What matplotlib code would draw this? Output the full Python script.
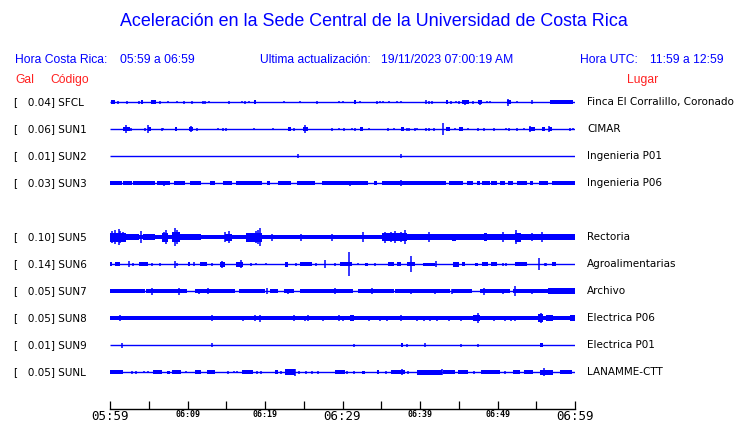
import matplotlib
matplotlib.use("Agg")
import matplotlib.pyplot as plt
import matplotlib.transforms as mtransforms

# STATIONS
codes = ["SFCL", "SUN1", "SUN2", "SUN3", "SUN5", "SUN6", "SUN7", "SUN8", "SUN9", "SUNL"]
gal = [0.04, 0.06, 0.01, 0.03, 0.10, 0.14, 0.05, 0.05, 0.01, 0.05]
places = ["Finca El Corralillo, Coronado", "CIMAR", "Ingenieria P01", "Ingenieria P06",
          "Rectoria", "Agroalimentarias", "Archivo", "Electrica P06", "Electrica P01",
          "LANAMME-CTT"]
rows = [0, 1, 2, 3, 5, 6, 7, 8, 9, 10]

# TIME AXIS (minutes after 05:59)
tick_minutes = list(range(0, 61, 5))
tick_labels = ["05:59", "", "06:09", "", "06:19", "", "06:29", "", "06:39", "", "06:49", "", "06:59"]
big_labels = ["05:59", "06:29", "06:59"]

# TRACE ENVELOPES
# bands: (start min, end min, half amplitude px), spikes: (min, half amplitude px)
bands = {
    "SFCL": [(0.1, 0.6, 2), (4.0, 4.3, 2), (5.3, 5.9, 2), (18.6, 18.9, 2), (31.5, 31.8, 2),
             (43.3, 43.6, 2), (45.4, 46.3, 2), (47.5, 48.0, 2), (51.2, 51.7, 2), (56.8, 59.8, 2.2)],
    "SUN1": [(1.7, 2.6, 2), (4.9, 5.3, 2), (8.4, 8.6, 2), (10.2, 10.7, 2), (23.0, 23.3, 2),
             (24.9, 25.6, 2), (32.3, 32.6, 2), (37.5, 37.9, 2), (43.4, 43.9, 2), (45.0, 45.6, 2),
             (54.0, 54.8, 2), (55.7, 56.1, 2), (56.6, 57.0, 2)],
    "SUN2": [],
    "SUN3": [(0, 1.5, 2), (1.7, 2.8, 2), (3.0, 5.8, 2), (6.0, 7.7, 2), (8.2, 9.7, 2),
             (10.3, 11.8, 2), (12.9, 13.5, 2), (14.6, 15.7, 2), (16.3, 19.6, 2), (20.2, 20.6, 2),
             (21.7, 23.4, 2), (24.1, 26.5, 2), (27.3, 33.3, 2), (34.0, 34.4, 2), (35.1, 43.4, 2),
             (43.7, 45.6, 2), (46.0, 46.8, 2), (47.3, 47.7, 2), (48.0, 49.0, 2), (49.2, 49.9, 2),
             (50.3, 51.0, 2), (51.4, 52.0, 2), (52.5, 53.8, 2), (54.2, 54.6, 2), (55.3, 56.5, 2),
             (57.0, 60.0, 2)],
    "SUN5": [(0, 2.0, 4.5), (2.0, 3.8, 2.8), (3.8, 4.3, 2.3), (4.3, 5.8, 2.8), (5.8, 6.7, 2.3),
             (6.7, 7.5, 4.5), (7.5, 8.0, 2.3), (8.0, 9.0, 5), (9.0, 11.8, 2.8), (11.8, 14.8, 2.3),
             (14.8, 15.7, 3.5), (15.7, 17.6, 2.3), (17.6, 19.6, 4.5), (19.6, 35.1, 2.3),
             (35.1, 38.3, 4), (38.3, 44.1, 2.8), (44.1, 44.7, 3.5), (44.7, 48.2, 2.8),
             (48.2, 48.6, 4), (48.6, 52.3, 2.8), (52.3, 53.0, 4.5), (53.0, 56.7, 2.8), (56.7, 60, 3.2)],
    "SUN6": [(0, 0.2, 2), (0.6, 1.3, 2), (3.7, 4.9, 2), (10.1, 10.3, 2), (11.6, 12.5, 2),
             (14.2, 14.8, 2.5), (16.3, 17.2, 2.5), (22.6, 23.0, 2.5), (24.5, 26.0, 2),
             (29.7, 31.2, 2), (32.9, 33.3, 1.5), (35.9, 36.6, 2), (37.0, 37.6, 2), (38.3, 39.3, 2),
             (40.4, 41.9, 1.5), (44.3, 45.0, 2.5), (45.4, 45.8, 2), (47.1, 47.5, 1.5),
             (48.0, 48.8, 2), (49.2, 49.9, 2), (52.3, 53.8, 2), (57.0, 57.6, 2)],
    "SUN7": [(0, 4.5, 2.2), (4.7, 9.9, 2.2), (11.0, 16.1, 2.2), (16.6, 20.0, 2.2), (20.6, 21.7, 2.2),
             (22.4, 23.7, 2.2), (24.5, 31.4, 2.2), (32.0, 36.6, 2.2), (36.8, 43.9, 2.2),
             (44.1, 46.7, 2.2), (47.7, 51.6, 2.2), (52.0, 56.5, 2.2), (56.5, 60, 2.7)],
    "SUN8": [(0, 60, 2.1), (31.0, 31.5, 3), (46.9, 47.7, 3.2), (55.2, 55.9, 3.7),
             (56.3, 57.2, 3), (59.4, 60, 3)],
    "SUN9": [(37.5, 37.8, 2), (55.5, 55.9, 2)],
    "SUNL": [(0, 0.6, 2), (0.6, 1.7, 2), (5.6, 6.7, 2), (7.3, 7.7, 1.5), (8.0, 9.2, 2),
             (11.0, 11.8, 2), (12.5, 13.5, 2), (17.0, 18.5, 2), (21.3, 21.7, 2), (22.6, 23.9, 3),
             (29.0, 30.3, 2), (32.5, 32.9, 1.5), (34.4, 34.7, 2), (36.3, 38.1, 2), (39.6, 42.8, 2.5),
             (43.0, 44.5, 2), (44.9, 46.2, 2), (47.9, 50.3, 2), (52.0, 52.9, 2), (53.4, 54.6, 2),
             (55.5, 57.2, 2.5), (58.1, 59.6, 2)],
}
spikes = {
    "SFCL": [(0.2, 2), (1.0, 1.5), (2.2, 1.5), (3.8, 1.5), (5.4, 2), (6.5, 1.5), (7.5, 1),
             (8.6, 1), (9.5, 1.5), (10.6, 1.5), (12.0, 1.5), (12.2, 1.5), (12.8, 1), (15.4, 1.5),
             (17.0, 1), (17.4, 1.5), (17.9, 1), (22.4, 1), (24.5, 1), (26.7, 1.5), (29.5, 1),
             (30.1, 1), (32.3, 1), (34.4, 1.5), (34.8, 1), (35.2, 1), (36.0, 1), (37.0, 1),
             (37.6, 1), (40.8, 2), (41.2, 1.5), (41.6, 1.5), (44.0, 1.5), (44.6, 1), (45.0, 1.5),
             (45.8, 2.5), (46.9, 1.5), (47.8, 2.5), (48.6, 1), (49.0, 1), (51.4, 3.5), (52.5, 1),
             (54.5, 2)],
    "SUN1": [(2.1, 4), (2.7, 1.5), (4.5, 1.5), (4.9, 4), (6.7, 1.5), (6.9, 1), (10.4, 3),
             (11.2, 1.5), (13.9, 1), (14.6, 1.5), (15.0, 1.5), (18.6, 1), (21.0, 1), (23.7, 1.5),
             (25.2, 4), (28.7, 1.5), (29.6, 1), (30.2, 1.5), (31.2, 1), (31.6, 1.5), (33.4, 1),
             (35.9, 1.5), (36.6, 1), (38.3, 1.5), (38.6, 1.5), (39.4, 1.5), (39.6, 1), (40.8, 1.5),
             (41.1, 1.5), (41.8, 1.5), (43.0, 6), (44.5, 1), (46.2, 1), (47.5, 1.5), (48.2, 1.5),
             (49.5, 1.5), (51.1, 1), (51.5, 1.5), (52.5, 1.5), (53.4, 1), (54.2, 3), (56.7, 3),
             (59.3, 1.5), (59.8, 1)],
    "SUN2": [(24.3, 2), (37.5, 2)],
    "SUN3": [(37.6, 3), (31.0, 2.5), (7.0, 2.5)],
    "SUN5": [(0.2, 6), (0.6, 7), (1.1, 8), (1.3, 6), (1.7, 5), (4.0, 6), (7.0, 5), (7.2, 7),
             (8.4, 9), (8.7, 7), (14.9, 5), (15.3, 6), (18.8, 6), (19.1, 7), (19.4, 9), (20.9, 3.5),
             (24.7, 3.5), (28.6, 3.5), (32.6, 5), (35.5, 5.5), (36.2, 5), (36.8, 6), (37.6, 5),
             (38.1, 7), (41.1, 5), (50.7, 5), (52.4, 7), (54.4, 4), (55.7, 5)],
    "SUN6": [(2.4, 3), (3.0, 1.5), (5.4, 1.5), (6.4, 1.5), (8.4, 3.5), (8.6, 1.5), (10.8, 2),
             (13.1, 1.5), (14.4, 3.5), (16.9, 4), (18.2, 1.5), (18.8, 1), (20.1, 1), (24.0, 1.5),
             (26.6, 1.5), (27.7, 4), (29.0, 1.5), (30.8, 12), (32.0, 1), (34.2, 1.5), (38.9, 8),
             (42.1, 3), (50.7, 1.5), (51.1, 1.5), (55.4, 6), (56.1, 1.5), (56.3, 1.5)],
    "SUN7": [(5.4, 3.5), (8.9, 3.5), (11.5, 2.5), (12.7, 3), (20.2, 3), (23.0, 2.5), (29.0, 3),
             (33.8, 3), (38.9, 2.5), (41.9, 2.5), (44.1, 2.5), (48.3, 3.5), (50.7, 2.5),
             (52.3, 5), (54.5, 2.5)],
    "SUN8": [(1.3, 3), (13.2, 3), (17.1, 2.5), (18.7, 3), (19.4, 3.5), (23.8, 3), (25.1, 2.5),
             (25.6, 3), (27.5, 2.5), (29.5, 3), (30.1, 2.5), (33.4, 2.5), (34.9, 2.5), (35.8, 2.5),
             (37.5, 3), (39.6, 2.5), (40.5, 2.5), (41.3, 2.5), (42.2, 2.5), (43.8, 2.5),
             (45.3, 2.5), (47.5, 5), (49.5, 2.5), (51.0, 2.5), (51.8, 2.5), (52.2, 2.5), (55.6, 5)],
    "SUN9": [(1.6, 2.5), (13.2, 2), (31.5, 1.5), (38.3, 1.5), (40.6, 2), (45.3, 1.5), (47.5, 1.5)],
    "SUNL": [(2.9, 1.5), (3.4, 1.5), (4.4, 1), (4.9, 1), (9.8, 1), (15.2, 1.5), (16.0, 1),
             (16.4, 1), (19.0, 1.5), (19.5, 1.5), (22.1, 1.5), (23.9, 3.5), (24.4, 1.5),
             (25.3, 1.5), (26.1, 1.5), (26.9, 1.5), (30.6, 1.5), (31.5, 1.5), (35.6, 1.5),
             (37.7, 3), (38.5, 1.5), (42.8, 3), (47.0, 1.5), (51.0, 1.5), (56.0, 4)],
}

ROW_PX = 27.0
BLUE = "#0000ff"
RED = "#ff2020"

fig = plt.figure(figsize=(7.4, 4.23), dpi=100)
ax = fig.add_axes([110 / 740, 14 / 423, 465 / 740, 321 / 423])
ax.set_xlim(0, 60)
ax.set_ylim(11.37, -0.52)

for code, row in zip(codes, rows):
    ax.hlines(row, 0, 60, color=BLUE, lw=1.0)
    for t0, t1, a in bands[code]:
        h = a / ROW_PX
        ax.fill_between([t0, t1], row - h, row + h, color=BLUE, lw=0)
    for t, a in spikes[code]:
        h = a / ROW_PX
        ax.vlines(t, row - h, row + h, color=BLUE, lw=1.1)

# AXIS STYLE
for s in ["top", "left", "right"]:
    ax.spines[s].set_visible(False)
ax.spines["bottom"].set_linewidth(1.0)
ax.set_yticks([])
ax.set_xticks(tick_minutes)
ax.set_xticklabels(tick_labels)
ax.tick_params(axis="x", direction="in", length=6, width=0.9, pad=0.5)
for lab in ax.get_xticklabels():
    lab.set_family("DejaVu Sans Mono")
    if lab.get_text() in big_labels:
        lab.set_fontsize(9)
    else:
        lab.set_fontsize(6)
        lab.set_fontweight("bold")

# STATION LABELS
tr = mtransforms.blended_transform_factory(fig.transFigure, ax.transData)
for code, g, place, row in zip(codes, gal, places, rows):
    ax.text(14 / 740, row, f"[   {g:.2f}] {code}", transform=tr, fontsize=7.5,
            family="DejaVu Sans", va="center", ha="left")
    ax.text(587 / 740, row, place, transform=tr, fontsize=7.5,
            family="DejaVu Sans", va="center", ha="left")

# HEADER
fig.text(374 / 740, 1 - 21 / 423, "Aceleración en la Sede Central de la Universidad de Costa Rica",
         ha="center", va="center", color=BLUE, fontsize=12.9, family="Liberation Sans")
hdr = dict(va="center", ha="left", color=BLUE, fontsize=8.7, family="Liberation Sans")
y1 = 1 - 60 / 423
fig.text(15 / 740, y1, "Hora Costa Rica:", **hdr)
fig.text(120 / 740, y1, "05:59 a 06:59", **hdr)
fig.text(260 / 740, y1, "Ultima actualización:", **hdr)
fig.text(381 / 740, y1, "19/11/2023 07:00:19 AM", **hdr)
fig.text(580 / 740, y1, "Hora UTC:", **hdr)
fig.text(650 / 740, y1, "11:59 a 12:59", **hdr)
y2 = 1 - 80 / 423
red = dict(hdr, color=RED)
fig.text(15 / 740, y2, "Gal", **red)
fig.text(50 / 740, y2, "Código", **red)
fig.text(627 / 740, y2, "Lugar", **red)

fig.savefig("out.png", dpi=100)
